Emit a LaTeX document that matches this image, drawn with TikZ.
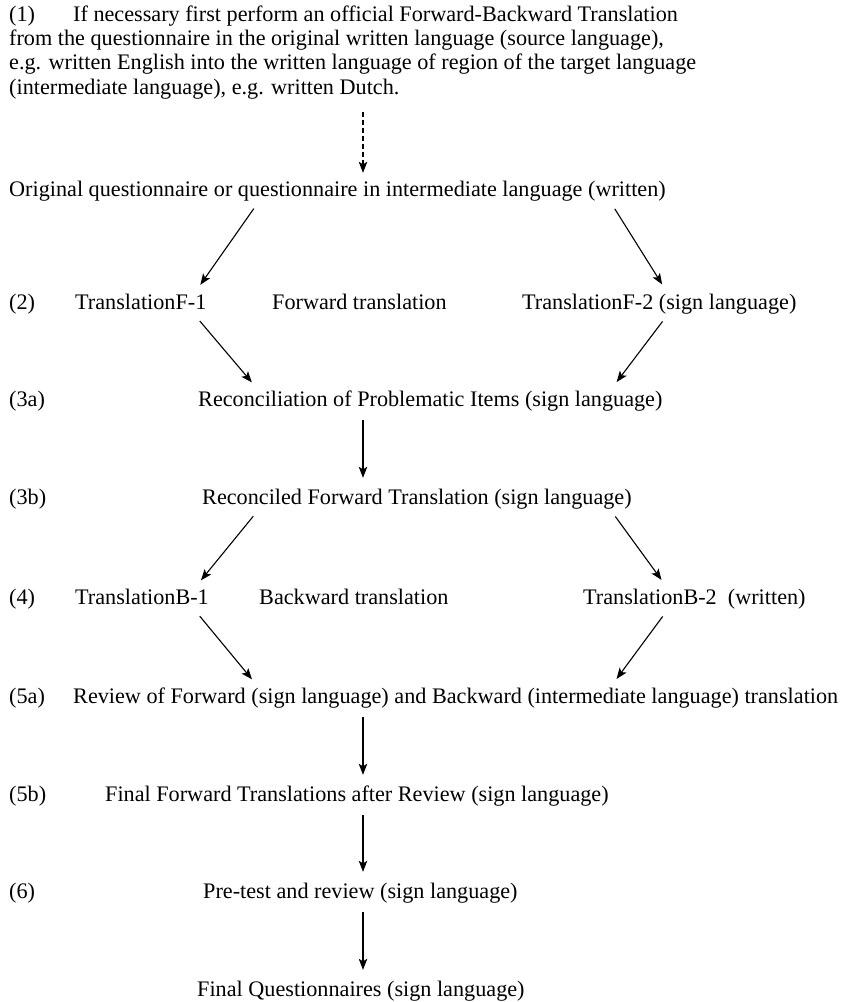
\documentclass[tikz,border=0pt]{standalone}
\usepackage{fontspec}
\setmainfont{Liberation Serif}
\usetikzlibrary{arrows.meta}
\begin{document}
\begin{tikzpicture}
			[x=1pt,y=-1pt,
			fnt/.style={anchor=base west,inner sep=0pt,font=\fontsize{22.2}{24.3}\selectfont},
			txt/.style={fnt,text height=15pt,text depth=5pt},
			link/.style={->,line width=1.1pt,shorten <=9pt,shorten >=11pt},
			>={Stealth[length=11pt,width=8.5pt,inset=2.5pt]}]
			\useasboundingbox (0,0) rectangle (842,1002);
			\coordinate (xm) at (363,0);
			\coordinate (xl) at (194,0);
			\coordinate (xli) at (259,0);
			\coordinate (xri) at (610,0);
			\coordinate (xr) at (668,0);
			% base of a multi-line node is its last line
			\node[fnt,align=left,name=head]at(9,94){\makebox[64pt][l]{(1)}If necessary first perform an official Forward-Backward Translation\\from the questionnaire in the original written language (source language),\\e.g. written English into the written language of region of the target language\\(intermediate language), e.g. written Dutch.};
			\node[txt,name=orig]at(9,196){Original questionnaire or questionnaire in intermediate language (written)};
			\node[txt,name=n2]at(9,309){(2)};
			\node[txt,name=f1]at(75,309){TranslationF-1};
			\node[txt,name=fwd]at(272,309){Forward translation};
			\node[txt,name=f2]at(522,309){TranslationF-2 (sign language)};
			\node[txt,name=n3a]at(9,406){(3a)};
			\node[txt,name=recon]at(198,406){Reconciliation of Problematic Items (sign language)};
			\node[txt,name=n3b]at(9,504){(3b)};
			\node[txt,name=rfwd]at(202,504){Reconciled Forward Translation (sign language)};
			\node[txt,name=n4]at(9,604){(4)};
			\node[txt,name=b1]at(75,604){TranslationB-1};
			\node[txt,name=bwd]at(259,604){Backward translation};
			\node[txt,name=b2]at(583,604){TranslationB-2\ \ (written)};
			\node[txt,name=n5a]at(9,703){(5a)};
			\node[txt,name=review]at(73,703){Review of Forward (sign language) and Backward (intermediate language) translation};
			\node[txt,name=n5b]at(9,801){(5b)};
			\node[txt,name=final]at(105,801){Final Forward Translations after Review (sign language)};
			\node[txt,name=n6]at(9,898){(6)};
			\node[txt,name=pretest]at(203,898){Pre-test and review (sign language)};
			\node[txt,name=quest]at(197,996){Final Questionnaires (sign language)};
			\draw[link,dashed,dash pattern=on 5pt off 3pt,shorten <=13pt,shorten >=8pt] (head.south -| xm)--(orig.north -| xm);
			\draw[link] (orig.south -| xli)--(f1.north -| xl);
			\draw[link] (orig.south -| xri)--(f2.north -| xr);
			\draw[link] (f1.south -| xl)--(recon.north -| xli);
			\draw[link] (f2.south -| xr)--(recon.north -| xri);
			\draw[link] (recon.south -| xm)--(rfwd.north -| xm);
			\draw[link] (rfwd.south -| xli)--(b1.north -| xl);
			\draw[link] (rfwd.south -| xri)--(b2.north -| xr);
			\draw[link] (b1.south -| xl)--(review.north -| xli);
			\draw[link] (b2.south -| xr)--(review.north -| xri);
			\draw[link] (review.south -| xm)--(final.north -| xm);
			\draw[link] (final.south -| xm)--(pretest.north -| xm);
			\draw[link] (pretest.south -| xm)--(quest.north -| xm);
		\end{tikzpicture}
\end{document}
